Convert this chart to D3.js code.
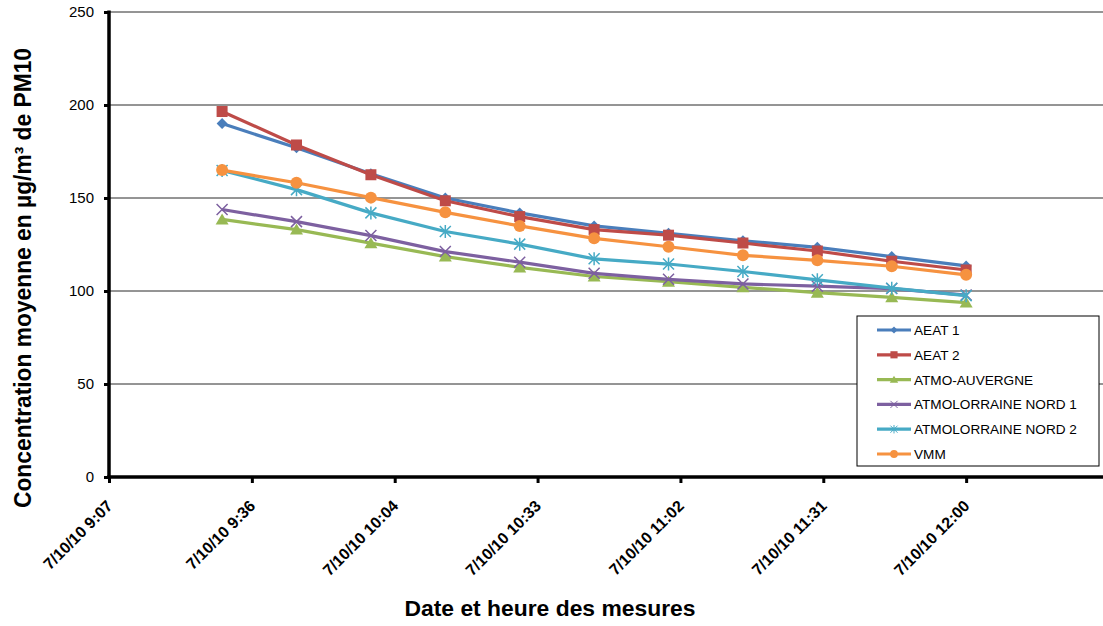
<!DOCTYPE html>
<html>
<head>
<meta charset="utf-8">
<script src="https://cdn.jsdelivr.net/npm/d3@7"></script>
<style>
  body { margin: 0; background: #fff; }
  svg { display: block; font-family: "Liberation Sans", Arial, sans-serif; }
</style>
</head>
<body>
<div id="graph"></div>
<script>
const svgWidth = 1103;
const svgHeight = 626;

// measurement times (7/10/10)
const times = ["09:30", "09:45", "10:00", "10:15", "10:30", "10:45", "11:00", "11:15", "11:30", "11:45", "12:00"];

const aeat1 = [190, 177, 163, 150, 142, 135, 131, 127, 123.5, 118.5, 113.5];
const aeat2 = [196.5, 178.5, 162.5, 148.5, 140, 133, 130, 125.8, 121.5, 116, 111.3];
const atmoAuvergne = [138.5, 133, 125.7, 118.5, 112.7, 107.8, 105, 102, 99.1, 96.6, 93.8];
const atmoLorraine1 = [143.8, 137.3, 129.8, 121.2, 115.5, 109.5, 106.3, 103.8, 102.6, 101.3, 97.8];
const atmoLorraine2 = [164.8, 154.5, 142, 132, 125.2, 117.3, 114.5, 110.5, 106, 101.5, 97.5];
const vmm = [165, 158.2, 150.2, 142.3, 135, 128.3, 123.8, 119.2, 116.5, 113.3, 108.7];

const seriesNames = ["AEAT 1", "AEAT 2", "ATMO-AUVERGNE", "ATMOLORRAINE NORD 1", "ATMOLORRAINE NORD 2", "VMM"];
const seriesValues = [aeat1, aeat2, atmoAuvergne, atmoLorraine1, atmoLorraine2, vmm];
const seriesColors = ["#4A7EBB", "#BE4B48", "#98B954", "#7D60A0", "#46AAC5", "#F69240"];
const seriesMarkers = ["diamond", "square", "triangle", "cross", "star", "circle"];

const xTickTimes = ["09:07:12", "09:36:00", "10:04:48", "10:33:36", "11:02:24", "11:31:12", "12:00:00"];
const xTickLabels = ["7/10/10 9:07", "7/10/10 9:36", "7/10/10 10:04", "7/10/10 10:33", "7/10/10 11:02", "7/10/10 11:31", "7/10/10 12:00"];
const yTicks = [0, 50, 100, 150, 200, 250];

const parseTime = d3.timeParse("%Y-%m-%d %H:%M:%S");
const toDate = t => parseTime("2010-10-07 " + (t.length === 5 ? t + ":00" : t));

const plot = {left: 109, right: 1109, top: 12, bottom: 477};

const svg = d3.select('#graph').append('svg')
	.attr('width', svgWidth)
	.attr('height', svgHeight);

const xScale = d3.scaleTime()
	.domain([toDate("09:07:12"), toDate("12:28:48")])
	.range([plot.left, plot.right]);

const yScale = d3.scaleLinear()
	.domain([0, 250])
	.range([plot.bottom, plot.top]);

// gridlines
svg.append('g')
	.selectAll('line')
	.data(yTicks.filter(d => d > 0))
	.enter().append('line')
	.attr('x1', plot.left)
	.attr('x2', svgWidth)
	.attr('y1', d => yScale(d))
	.attr('y2', d => yScale(d))
	.style('stroke', '#2a2a2a')
	.style('stroke-width', 1);

// y axis
const yAxis = d3.axisLeft(yScale).tickValues(yTicks).tickSize(5).tickPadding(10);
const yg = svg.append('g')
	.attr('transform', `translate(${plot.left}, 0)`)
	.call(yAxis);
yg.select('.domain').remove();
yg.selectAll('.tick line').style('stroke', '#000').style('stroke-width', 3);
yg.selectAll('.tick text')
	.style('font-size', '15px')
	.style('font-family', '"Liberation Sans", Arial, sans-serif')
	.style('fill', '#000');
yg.append('line')
	.attr('x1', 0).attr('x2', 0)
	.attr('y1', plot.top - 1.5).attr('y2', plot.bottom + 2)
	.style('stroke', '#000').style('stroke-width', 3.5);

// x axis
const xAxis = d3.axisBottom(xScale)
	.tickValues(xTickTimes.map(toDate))
	.tickFormat((d, i) => xTickLabels[i])
	.tickSize(6);
const xg = svg.append('g')
	.attr('transform', `translate(0, ${plot.bottom})`)
	.call(xAxis);
xg.select('.domain').remove();
xg.selectAll('.tick line').style('stroke', '#000').style('stroke-width', 3);
xg.selectAll('.tick text')
	.style('font-size', '16px')
	.style('font-weight', 'bold')
	.style('font-family', '"Liberation Sans", Arial, sans-serif')
	.style('fill', '#000')
	.style('text-anchor', 'end')
	.attr('dy', null)
	.attr('y', 0)
	.attr('transform', 'translate(4, 30) rotate(-45)');
xg.append('line')
	.attr('x1', plot.left - 1.75).attr('x2', svgWidth)
	.attr('y1', 0).attr('y2', 0)
	.style('stroke', '#000').style('stroke-width', 3.5);

// axis titles
svg.append('text')
	.attr('transform', `translate(31, 278) rotate(-90)`)
	.attr('text-anchor', 'middle')
	.attr('textLength', 460)
	.attr('lengthAdjust', 'spacingAndGlyphs')
	.style('font-size', '23px')
	.style('font-weight', 'bold')
	.text('Concentration moyenne en µg/m³ de PM10');

svg.append('text')
	.attr('x', 550)
	.attr('y', 616)
	.attr('text-anchor', 'middle')
	.attr('textLength', 291)
	.attr('lengthAdjust', 'spacingAndGlyphs')
	.style('font-size', '22px')
	.style('font-weight', 'bold')
	.text('Date et heure des mesures');

// markers
function drawMarker(g, type, color) {
	if (type === 'diamond') {
		g.append('path').attr('d', 'M0,-5.5L5.5,0L0,5.5L-5.5,0Z').style('fill', color);
	} else if (type === 'square') {
		g.append('rect').attr('x', -5.5).attr('y', -5.5).attr('width', 11).attr('height', 11).style('fill', color);
	} else if (type === 'triangle') {
		g.append('path').attr('d', 'M0,-6L6.5,5L-6.5,5Z').style('fill', color);
	} else if (type === 'cross') {
		g.append('path').attr('d', 'M-5.5,-5.5L5.5,5.5M-5.5,5.5L5.5,-5.5').style('stroke', color).style('stroke-width', 1.5);
	} else if (type === 'star') {
		g.append('path').attr('d', 'M-5.5,-5.5L5.5,5.5M-5.5,5.5L5.5,-5.5M0,-6.5L0,6.5').style('stroke', color).style('stroke-width', 1.5);
	} else if (type === 'circle') {
		g.append('circle').attr('r', 6).style('fill', color);
	}
}

const line = d3.line()
	.x((d, i) => xScale(toDate(times[i])))
	.y(d => yScale(d));

seriesValues.forEach((vals, s) => {
	const g = svg.append('g').attr('class', 'series');
	g.append('path')
		.datum(vals)
		.attr('d', line)
		.style('fill', 'none')
		.style('stroke', seriesColors[s])
		.style('stroke-width', 3.2)
		.style('stroke-linejoin', 'round');
	vals.forEach((v, i) => {
		const m = g.append('g')
			.attr('transform', `translate(${xScale(toDate(times[i]))}, ${yScale(v)})`);
		drawMarker(m, seriesMarkers[s], seriesColors[s]);
	});
});

// legend
const legend = svg.append('g').attr('transform', 'translate(857, 316)');
legend.append('rect')
	.attr('width', 242)
	.attr('height', 150)
	.style('fill', '#fff')
	.style('stroke', '#000')
	.style('stroke-width', 1);
seriesNames.forEach((name, s) => {
	const row = legend.append('g').attr('transform', `translate(0, ${14 + s * 24.8})`);
	row.append('line')
		.attr('x1', 20).attr('x2', 54)
		.attr('y1', 0).attr('y2', 0)
		.style('stroke', seriesColors[s])
		.style('stroke-width', 3.2);
	const m = row.append('g').attr('transform', 'translate(37, 0) scale(0.65)');
	drawMarker(m, seriesMarkers[s], seriesColors[s]);
	row.append('text')
		.attr('x', 57)
		.attr('y', 5)
		.style('font-size', '13.6px')
		.text(name);
});
</script>
</body>
</html>
